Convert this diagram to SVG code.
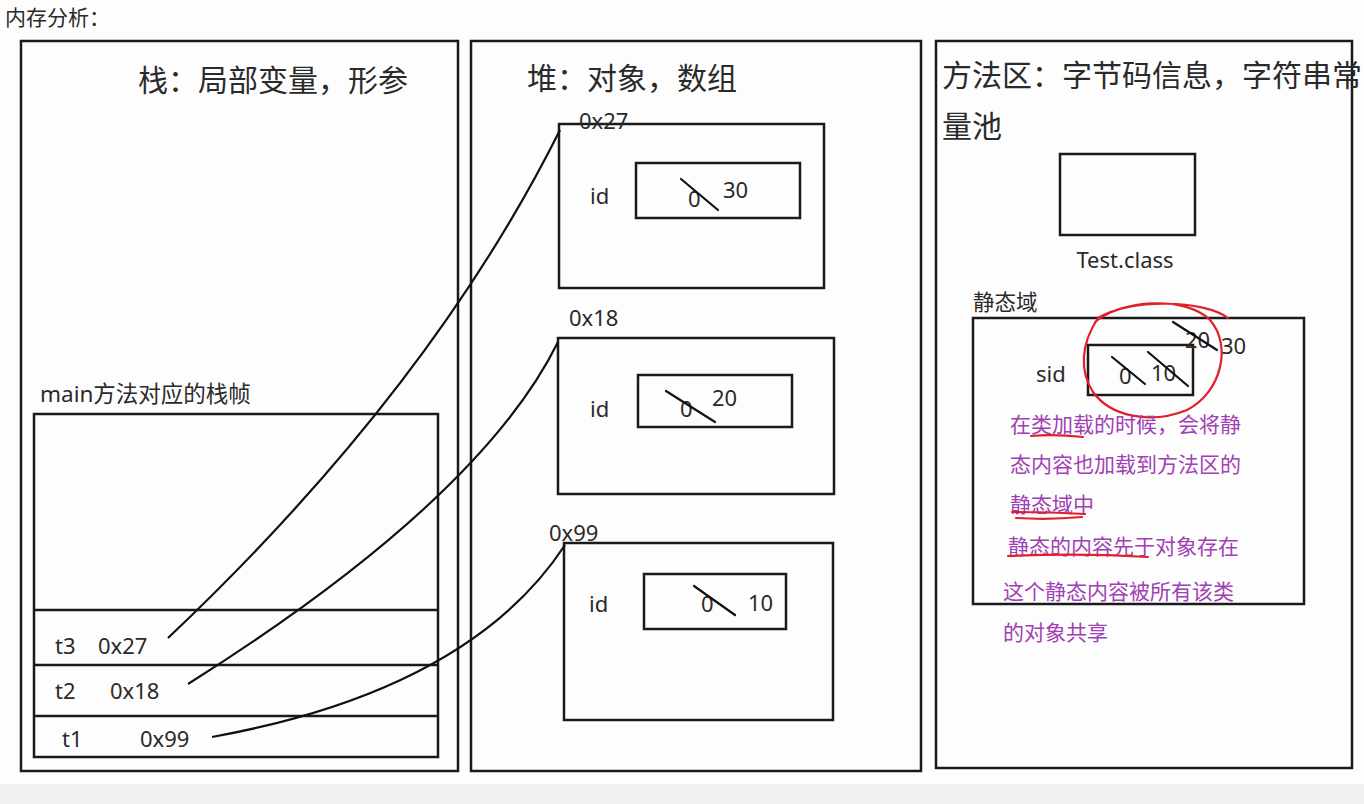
<svg xmlns="http://www.w3.org/2000/svg" width="1364" height="804" viewBox="0 0 1364 804">
<style>
.box{fill:none;stroke:#1a1a1a;stroke-width:2.5}
.t{font-family:"Noto Sans","Noto Sans CJK SC",sans-serif;fill:#2a2a2a}
.h{font-size:30px}
.s{font-size:22px}
.p{font-family:"Noto Sans CJK SC","Noto Sans",sans-serif;font-size:21px;fill:#a040b4}
.k{stroke:#111;stroke-width:2.2;fill:none;stroke-linecap:round}
.red{stroke:#e0202a;stroke-width:2.2;fill:none;stroke-linecap:round}
.c{stroke:#111;stroke-width:2.2;fill:none}
</style>
<rect width="1364" height="804" fill="#fdfdfd"/>
<rect y="784" width="1364" height="20" fill="#f0f0f0"/>
<text class="t" x="5" y="25" font-size="21">内存分析：</text>

<g id="stack">
<rect class="box" x="21" y="41" width="437" height="730"/>
<text class="t h" x="138" y="91">栈：局部变量，形参</text>
<text class="t" x="40" y="402" font-size="22.5">main方法对应的栈帧</text>
<rect class="box" x="34" y="414" width="404" height="343"/>
<line class="box" x1="34" y1="610" x2="438" y2="610"/>
<line class="box" x1="34" y1="665" x2="438" y2="665"/>
<line class="box" x1="34" y1="716" x2="438" y2="716"/>
<text class="t s" x="55" y="654">t3</text>
<text class="t s" x="98" y="654">0x27</text>
<text class="t s" x="55" y="699">t2</text>
<text class="t s" x="110" y="699">0x18</text>
<text class="t s" x="62" y="747">t1</text>
<text class="t s" x="140" y="747">0x99</text>
</g>

<g id="heap">
<rect class="box" x="471" y="41" width="450" height="730"/>
<text class="t h" x="527" y="89">堆：对象，数组</text>
</g>

<g id="obj1">
<rect class="box" x="559" y="124" width="265" height="164"/>
<text class="t s" x="579" y="129">0x27</text>
<text class="t s" x="590" y="204">id</text>
<rect class="box" x="636" y="163" width="164" height="55"/>
<text class="t s" x="688" y="207">0</text>
<line class="k" x1="681" y1="179" x2="718" y2="210"/>
<text class="t s" x="723" y="198">30</text>
</g>

<g id="obj2">
<rect class="box" x="558" y="338" width="276" height="156"/>
<text class="t s" x="569" y="326">0x18</text>
<text class="t s" x="590" y="417">id</text>
<rect class="box" x="638" y="375" width="154" height="52"/>
<text class="t s" x="680" y="417">0</text>
<line class="k" x1="666" y1="391" x2="715" y2="422"/>
<text class="t s" x="712" y="406">20</text>
</g>

<g id="obj3">
<rect class="box" x="564" y="543" width="269" height="177"/>
<text class="t s" x="549" y="541">0x99</text>
<text class="t s" x="589" y="612">id</text>
<rect class="box" x="644" y="574" width="142" height="55"/>
<text class="t s" x="701" y="612">0</text>
<line class="k" x1="694" y1="586" x2="735" y2="615"/>
<text class="t s" x="748" y="611">10</text>
</g>

<g id="method">
<rect class="box" x="936" y="41" width="416" height="727"/>
<text class="t h" x="942" y="86">方法区：字节码信息，字符串常</text>
<text class="t h" x="942" y="137">量池</text>
</g>

<g id="testclass">
<rect class="box" x="1060" y="154" width="135" height="81"/>
<text class="t s" x="1125" y="268" text-anchor="middle">Test.class</text>
</g>

<g id="static">
<text class="t" x="973" y="310" font-size="21.5">静态域</text>
<rect class="box" x="973" y="318" width="331" height="286"/>
<text class="t s" x="1036" y="382">sid</text>
<rect class="box" x="1088" y="345" width="105" height="50"/>
<text class="t s" x="1119" y="384">0</text>
<line class="k" x1="1112" y1="357" x2="1145" y2="384"/>
<text class="t s" x="1151" y="381">10</text>
<line class="k" x1="1148" y1="352" x2="1188" y2="386"/>
<text class="t s" x="1185" y="348">20</text>
<line class="k" x1="1173" y1="322" x2="1217" y2="350"/>
<text class="t s" x="1221" y="354">30</text>
<path class="red" d="M1095,322 C1120,300 1185,295 1210,320 C1232,345 1222,392 1187,410 C1150,425 1110,416 1093,392 C1080,372 1080,345 1098,318 C1130,298 1205,300 1228,318"/>
<text class="p" x="1010" y="432">在类加载的时候，会将静</text>
<text class="p" x="1010" y="472">态内容也加载到方法区的</text>
<text class="p" x="1010" y="512">静态域中</text>
<text class="p" x="1008" y="554">静态的内容先于对象存在</text>
<text class="p" x="1003" y="599">这个静态内容被所有该类</text>
<text class="p" x="1003" y="640">的对象共享</text>
<path class="red" d="M1031,436 Q1055,434 1083,437"/>
<path class="red" d="M1012,512 Q1050,512 1085,514 M1016,518 Q1050,520 1082,517"/>
<path class="red" d="M1008,556 Q1080,553 1148,557"/>
</g>

<g id="connectors">
<path class="c" d="M168,638 Q430,390 560,130"/>
<path class="c" d="M188,684 Q480,500 558,342"/>
<path class="c" d="M212,737 Q470,690 565,545"/>
</g>
</svg>
